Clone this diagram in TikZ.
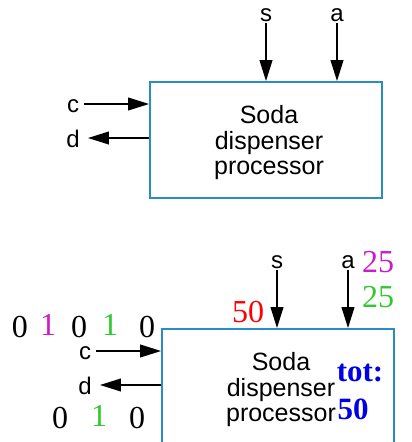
\documentclass[tikz,border=0pt]{standalone}
\usepackage{fontspec}
\setmainfont{Liberation Sans}
\newfontfamily\numfont{Liberation Serif}
\usetikzlibrary{arrows.meta}
\definecolor{boxblue}{RGB}{40,140,200}
\definecolor{mag}{RGB}{200,30,200}
\definecolor{grn}{RGB}{50,200,50}
\definecolor{totblue}{RGB}{0,0,230}
\tikzset{
  procbox/.style={draw=boxblue, line width=1.6pt, minimum width=232pt, inner sep=0pt},
  lbl/.style={font=\fontsize{24}{26}\selectfont, inner sep=1pt},
  body/.style={font=\fontsize{25}{25.5}\selectfont, align=center, inner sep=0pt},
  num/.style={font=\numfont\fontsize{32}{34}\selectfont, inner sep=0pt, text height=20pt, text depth=0pt},
  tot/.style={font=\numfont\bfseries\fontsize{31}{33}\selectfont, text=totblue, inner sep=0pt},
  arr/.style={line width=2.2pt, -{Triangle[length=21pt,width=12.5pt]}},
}
\begin{document}
\begin{tikzpicture}[x=1pt,y=-1pt]
\useasboundingbox (0,0) rectangle (412,442);
\clip (0,0) rectangle (412,442);
% top diagram
\node[procbox, minimum height=116pt] (box1) at (266,140) {};
\node[body] (t1) at (269,143) {Soda\\dispenser\\processor};
\node[lbl] (s1) at (266,15) {s};
\node[lbl] (a1) at (337,15) {a};
\node[lbl] (c1) at (73,106) {c};
\node[lbl] (d1) at (73,139) {d};
\draw[arr] ([yshift=2pt,xshift=4pt]c1.east) -- ([yshift=2pt]c1.east -| box1.west);
\draw[arr] ([yshift=1pt]d1.east -| box1.west) -- ([yshift=1pt,xshift=7pt]d1.east);
\draw[arr] (s1.south) -- (s1.south |- box1.north);
\draw[arr] (a1.south) -- (a1.south |- box1.north);
% bottom diagram
\node[procbox, minimum height=140pt] (box2) at (278,399) {};
\node[body] (t2) at (281,390) {Soda\\dispenser\\processor};
\node[lbl] (s2) at (277,262) {s};
\node[lbl] (a2) at (348,262) {a};
\node[lbl] (c2) at (85,353) {c};
\node[lbl] (d2) at (85,386) {d};
\draw[arr] ([yshift=2pt,xshift=4pt]c2.east) -- ([yshift=2pt]c2.east -| box2.west);
\draw[arr] ([yshift=1pt]d2.east -| box2.west) -- ([yshift=1pt,xshift=7pt]d2.east);
\draw[arr] (s2.south) -- (s2.south |- box2.north);
\draw[arr] (a2.south) -- (a2.south |- box2.north);
% values
\node[num, text=red] (v50) at (248,312) {50};
\node[num, text=mag] (m25) at (378,262) {25};
\node[num, text=grn] (g25) at (378,297) {25};
\node[num] (r1) at (20,327) {0};
\node[num, text=mag] (r2) at (48,325) {1};
\node[num] (r3) at (79,327) {0};
\node[num, text=grn] (r4) at (110,325) {1};
\node[num] (r5) at (147,327) {0};
\node[num] (q1) at (60,418) {0};
\node[num, text=grn] (q2) at (99,416) {1};
\node[num] (q3) at (137,418) {0};
\node[tot] (tt) at (360,373) {tot:};
\node[tot] (tv) at (353,409) {50};
\end{tikzpicture}
\end{document}
